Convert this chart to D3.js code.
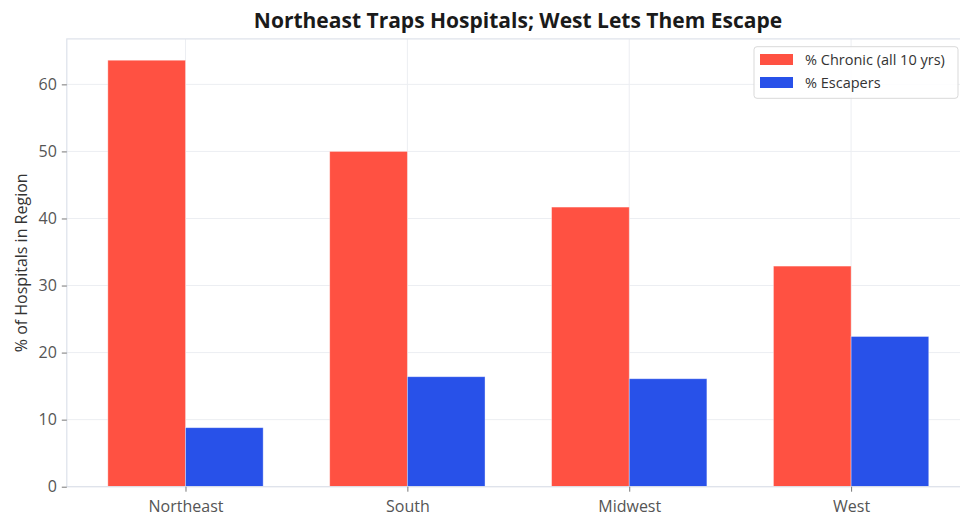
<!DOCTYPE html>
<html>
<head>
<meta charset="utf-8">
<script src="https://cdn.jsdelivr.net/npm/d3@7"></script>
<style>
  html, body { margin: 0; padding: 0; background: #fff; }
  svg { display: block; font-family: "Open Sans", "Noto Sans", sans-serif; }
</style>
</head>
<body>
<svg id="chart" width="960" height="517"></svg>
<script>
const categories = ["Northeast", "South", "Midwest", "West"];
const chronicPct = [63.6, 50.0, 41.7, 32.9];
const escaperPct = [8.8, 16.4, 16.1, 22.4];
const seriesNames = ["% Chronic (all 10 yrs)", "% Escapers"];
const seriesColors = ["#FF5142", "#2851E9"];
const yTicks = [0, 10, 20, 30, 40, 50, 60];
const titleText = "Northeast Traps Hospitals; West Lets Them Escape";
const yLabel = "% of Hospitals in Region";

(function () {
const svg = d3.select("#chart");
const mLeft = 66.8, mRight = 969.8, mTop = 38.9, mBottom = 486.7;
const barW = 0.35;
const n = categories.length;
const pad = (n - 1 + 2 * barW) * 0.05;

const x = d3.scaleLinear().domain([-barW - pad, n - 1 + barW + pad]).range([mLeft, mRight]);
const yMax = d3.max(chronicPct.concat(escaperPct)) * 1.05;
const y = d3.scaleLinear().domain([0, yMax]).range([mBottom, mTop]);

const gridColor = "#eceef2";
const spineColor = "#dde2ea";

// grid
svg.append("g").selectAll("line").data(yTicks).join("line")
  .attr("x1", mLeft).attr("x2", mRight)
  .attr("y1", d => y(d)).attr("y2", d => y(d))
  .attr("stroke", gridColor).attr("stroke-width", 1);
svg.append("g").selectAll("line").data(categories).join("line")
  .attr("x1", (d, i) => x(i)).attr("x2", (d, i) => x(i))
  .attr("y1", mTop).attr("y2", mBottom)
  .attr("stroke", gridColor).attr("stroke-width", 1);

// bars
const series = [chronicPct, escaperPct];
series.forEach((vals, s) => {
  svg.append("g").selectAll("rect").data(vals).join("rect")
    .attr("x", (d, i) => x(i - barW + s * barW))
    .attr("width", (d, i) => x(i + barW) - x(i))
    .attr("y", d => y(d))
    .attr("height", d => y(0) - y(d))
    .attr("fill", seriesColors[s])
    .attr("stroke", "rgba(255,255,255,0.45)")
    .attr("stroke-width", 0.8);
});

// frame
svg.append("rect")
  .attr("x", mLeft).attr("y", mTop)
  .attr("width", mRight - mLeft).attr("height", mBottom - mTop)
  .attr("fill", "none").attr("stroke", spineColor).attr("stroke-width", 1.2);

// axes
const yAxis = d3.axisLeft(y).tickValues(yTicks).tickSize(5).tickPadding(5).tickFormat(d3.format("d"));
const gy = svg.append("g").attr("transform", `translate(${mLeft},0)`).call(yAxis);
gy.select(".domain").remove();
gy.selectAll(".tick line").attr("stroke", "#777").attr("stroke-width", 1);
gy.selectAll(".tick text").attr("fill", "#555").attr("font-size", 16)
  .attr("font-family", "'Open Sans', sans-serif");

const xAxis = d3.axisBottom(x).tickValues(d3.range(n)).tickSize(5).tickPadding(9)
  .tickFormat(i => categories[i]);
const gx = svg.append("g").attr("transform", `translate(0,${mBottom})`).call(xAxis);
gx.select(".domain").remove();
gx.selectAll(".tick line").attr("stroke", "#777").attr("stroke-width", 1);
gx.selectAll(".tick text").attr("fill", "#555").attr("font-size", 16)
  .attr("font-family", "'Open Sans', sans-serif");

// y label
svg.append("text")
  .attr("transform", `translate(21,${(mTop + mBottom) / 2}) rotate(-90)`)
  .attr("text-anchor", "middle").attr("dy", "0.35em")
  .attr("font-size", 16).attr("fill", "#333")
  .text(yLabel);

// title
svg.append("text")
  .attr("x", 518).attr("y", 28)
  .attr("text-anchor", "middle")
  .attr("font-size", 21).attr("font-weight", "bold").attr("fill", "#1a1a1a")
  .text(titleText);

// legend
const lg = svg.append("g");
lg.append("rect").attr("x", 754).attr("y", 46.7).attr("width", 204).attr("height", 51.6)
  .attr("rx", 3).attr("fill", "rgba(255,255,255,0.85)").attr("stroke", "#d9d9d9");
seriesNames.forEach((name, s) => {
  const cy = 59.5 + s * 23;
  lg.append("rect").attr("x", 760).attr("y", cy - 5.5).attr("width", 33).attr("height", 11)
    .attr("fill", seriesColors[s]);
  lg.append("text").attr("x", 805).attr("y", cy).attr("dy", "0.35em")
    .attr("font-size", 14.5).attr("fill", "#333").text(name);
});
})();
</script>
</body>
</html>
